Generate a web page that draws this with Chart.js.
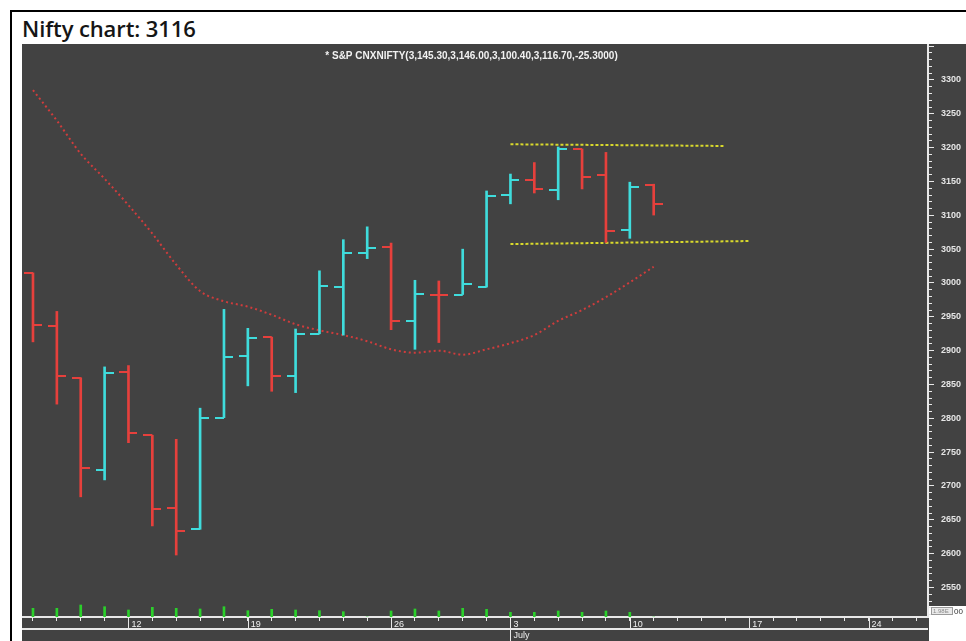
<!DOCTYPE html>
<html>
<head>
<meta charset="utf-8">
<script src="https://cdn.jsdelivr.net/npm/chart.js@4.4.1/dist/chart.umd.min.js"></script>
<style>
  html, body { margin: 0; padding: 0; background: #fff; width: 966px; height: 641px; overflow: hidden; }
  #frame { position: absolute; left: 10px; top: 10px; width: 980px; height: 660px; border-left: 2px solid #000; border-top: 2px solid #000; }
  #title { position: absolute; left: 22px; top: 17px; font: 600 22px "Open Sans", sans-serif; line-height: 22px; color: #151515; white-space: nowrap; letter-spacing: -0.1px; }
  #wrap { position: absolute; left: 22px; top: 44px; width: 944px; height: 597px; }
</style>
</head>
<body>
<div id="frame"></div>
<div id="title">Nifty chart: 3116</div>
<div id="wrap"><canvas id="nifty" width="944" height="597"></canvas></div>
<script>
const BG   = "#424242";
const UP   = "#3fdcdc";
const DOWN = "#e6403c";

// daily bars, index 0 = first session on the chart
const opens  = [3015, 2936, 2860, 2723, 2868, 2775, 2667, 2636, 2801, 2892, 2920, 2862, 2925, 2994, 3045, 3053, 2944, 2983, 2983, 2994, 3130, 3152, 3138, 3198, 3159, 3078, 3145.3];
const highs  = [3015, 2958, 2860, 2876, 2878, 2775, 2769, 2815, 2961, 2933, 2920, 2932, 3018, 3064, 3083, 3059, 3004, 3003, 3050, 3136, 3161, 3178, 3201, 3198, 3193, 3149, 3146];
const lows   = [2913, 2821, 2684, 2709, 2764, 2641, 2598, 2636, 2801, 2848, 2840, 2838, 2925, 2923, 3036, 2931, 2902, 2912, 2983, 2994, 3117, 3133, 3123, 3139, 3060, 3066, 3100.4];
const closes = [2938, 2862, 2726, 2867, 2778, 2666, 2633, 2800, 2891, 2919, 2862, 2925, 2996, 3044, 3051, 2944, 2984, 2982, 2999, 3129, 3152, 3139, 3198, 3157, 3077, 3142, 3116.7];
const volumes = [87, 87, 120, 103, 70, 97, 87, 80, 103, 63, 77, 70, 63, 53, 0, 60, 80, 60, 87, 77, 47, 47, 60, 47, 60, 47, 0];
const movingAvg = [3285, 3240, 3191, 3154, 3115, 3073, 3027, 2988, 2973, 2965, 2953, 2939, 2930, 2923, 2914, 2902, 2897, 2900, 2894, 2902, 2911, 2923, 2944, 2960, 2979, 3001, 3024];

// trend lines drawn on the chart: [session index, price]
const resistance = [[20, 3205], [29, 3202.5]];
const support    = [[20, 3057.5], [30, 3062]];

// axes
const weekIdx     = [4, 9, 15, 20, 25, 30, 35];
const weekLabels  = ["12", "19", "26", "3", "10", "17", "24"];
const monthIdx    = [20];
const monthLabels = ["July"];
const sessionCount = 38;
const priceLabels = [2550, 2600, 2650, 2700, 2750, 2800, 2850, 2900, 2950, 3000, 3050, 3100, 3150, 3200, 3250, 3300];
const header = "* S&P CNXNIFTY(3,145.30,3,146.00,3,100.40,3,116.70,-25.3000)";

const X_MIN = -0.46, X_MAX = 37.49;
const Y_MIN = 2506.4, Y_MAX = 3353.2;
const VOL_MAX = 5730;

const isUp = i => closes[i] >= opens[i];
const pts  = arr => arr.map((v, i) => ({ x: i, y: v }));
const noPad = s => { s.paddingLeft = s.paddingRight = s.paddingTop = s.paddingBottom = 0; };

function tickImg(color, side) {
  const c = document.createElement("canvas");
  c.width = 18; c.height = 2;
  const g = c.getContext("2d");
  g.fillStyle = color;
  g.fillRect(side === "left" ? 0 : 9, 0, 9, 2);
  return c;
}
const openUp = tickImg(UP, "left"),  openDown = tickImg(DOWN, "left");
const closeUp = tickImg(UP, "right"), closeDown = tickImg(DOWN, "right");

const frame = {
  id: "frame",
  beforeDraw(chart) {
    const { ctx, chartArea, width, height } = chart;
    ctx.save();
    ctx.fillStyle = BG;
    ctx.fillRect(0, 0, width, height);
    ctx.fillStyle = "#fff";
    ctx.fillRect(chartArea.right + 1, chartArea.bottom - 11, width, height);
    ctx.restore();
  },
  afterDraw(chart) {
    const { ctx, chartArea, height } = chart;
    const x = chart.scales.x;
    ctx.save();
    // header line
    ctx.fillStyle = "#f2f2f2";
    ctx.font = "bold 10px 'Liberation Sans', Arial, sans-serif";
    ctx.textAlign = "center";
    ctx.textBaseline = "middle";
    ctx.fillText(header, (chartArea.left + chartArea.right) / 2 - 3.5, 12.5);

    // second axis row
    const row2 = chartArea.bottom + 12;
    ctx.strokeStyle = "#e8e8e8";
    ctx.lineWidth = 2;
    ctx.beginPath();
    ctx.moveTo(chartArea.left, row2);
    ctx.lineTo(chartArea.right, row2);
    ctx.stroke();

    ctx.lineWidth = 1;
    weekIdx.forEach(i => {
      const px = Math.round(x.getPixelForValue(i)) + 0.5;
      const end = monthIdx.includes(i) ? height : row2;
      ctx.beginPath();
      ctx.moveTo(px, chartArea.bottom);
      ctx.lineTo(px, end);
      ctx.stroke();
    });
    ctx.fillStyle = "#f0f0f0";
    ctx.font = "9px 'Liberation Sans', Arial, sans-serif";
    ctx.textAlign = "left";
    ctx.textBaseline = "top";
    monthIdx.forEach((i, k) => {
      ctx.fillText(monthLabels[k], x.getPixelForValue(i) + 3, row2 + 2);
    });

    // little scale box in the corner
    const bx = chartArea.right + 3, by = chartArea.bottom - 10;
    ctx.fillStyle = "#eaeaea";
    ctx.fillRect(bx, by, 22, 8);
    ctx.strokeStyle = "#9a9a9a";
    ctx.strokeRect(bx + 0.5, by + 0.5, 21, 7);
    ctx.fillStyle = "#8a8a8a";
    ctx.font = "6px 'Liberation Sans', Arial, sans-serif";
    ctx.textBaseline = "middle";
    ctx.fillText("1.98E", bx + 2, by + 4);
    ctx.fillStyle = "#333";
    ctx.font = "8px 'Liberation Sans', Arial, sans-serif";
    ctx.fillText("00", bx + 23, by + 4.5);
    ctx.restore();
  }
};

new Chart(document.getElementById("nifty"), {
  type: "line",
  data: {
    datasets: [
      {
        type: "line", label: "Open", data: pts(opens), showLine: false,
        pointStyle: c => isUp(c.dataIndex) ? openUp : openDown, pointRadius: 9
      },
      {
        type: "line", label: "Close", data: pts(closes), showLine: false,
        pointStyle: c => isUp(c.dataIndex) ? closeUp : closeDown, pointRadius: 9
      },
      {
        type: "bar", label: "Range", data: highs.map((h, i) => ({ x: i, y: [lows[i], h] })),
        backgroundColor: highs.map((_, i) => isUp(i) ? UP : DOWN),
        barThickness: 2, grouped: false
      },
      {
        type: "line", label: "Resistance", data: resistance.map(([x, y]) => ({ x, y })),
        borderColor: "#d8d82c", borderWidth: 2, borderDash: [3, 2], pointRadius: 0
      },
      {
        type: "line", label: "Support", data: support.map(([x, y]) => ({ x, y })),
        borderColor: "#d8d82c", borderWidth: 2, borderDash: [3, 2], pointRadius: 0
      },
      {
        type: "line", label: "MA", data: pts(movingAvg),
        borderColor: "#d03c3c", borderWidth: 2, borderDash: [2, 3], pointRadius: 0,
        cubicInterpolationMode: "monotone"
      },
      {
        type: "bar", label: "Volume", yAxisID: "vol", data: pts(volumes),
        backgroundColor: "#2bd02b", barThickness: 2, grouped: false
      }
    ]
  },
  options: {
    responsive: false,
    animation: false,
    devicePixelRatio: 1,
    layout: { padding: 0, autoPadding: false },
    plugins: { legend: { display: false }, tooltip: { enabled: false } },
    scales: {
      x: {
        type: "linear", min: X_MIN, max: X_MAX, offset: false,
        afterFit: s => { s.height = 24; noPad(s); },
        afterBuildTicks: s => { s.ticks = Array.from({ length: sessionCount }, (_, i) => ({ value: i })); },
        ticks: {
          autoSkip: false, maxRotation: 0, align: "start", labelOffset: 3, padding: -2,
          color: "#f0f0f0", font: { size: 9, family: "'Liberation Sans', Arial, sans-serif" },
          callback: v => { const k = weekIdx.indexOf(v); return k >= 0 ? weekLabels[k] : ""; }
        },
        grid: { drawOnChartArea: false, offset: false, tickLength: 4, tickColor: "#e8e8e8", tickWidth: 1 },
        border: { color: "#e8e8e8", width: 2 }
      },
      y: {
        type: "linear", position: "right", min: Y_MIN, max: Y_MAX,
        afterFit: s => { s.width = 38; noPad(s); },
        afterBuildTicks: s => {
          const t = [];
          for (let v = 2510; v <= 3350; v += 10) t.push({ value: v });
          s.ticks = t;
        },
        ticks: {
          autoSkip: false, padding: 7, color: "#e6e6e6",
          font: { size: 9, weight: "bold", family: "'Liberation Sans', Arial, sans-serif" },
          callback: v => priceLabels.includes(v) ? String(v) : ""
        },
        grid: {
          drawOnChartArea: false, tickLength: 6, tickColor: "#e8e8e8", tickWidth: 1,
          tickBorderDash: c => (c.tick && c.tick.value % 50 === 0) ? [] : [3, 10]
        },
        border: { color: "#e8e8e8", width: 2 }
      },
      vol: { type: "linear", display: false, min: 0, max: VOL_MAX, afterFit: noPad }
    }
  },
  plugins: [frame]
});
</script>
</body>
</html>
